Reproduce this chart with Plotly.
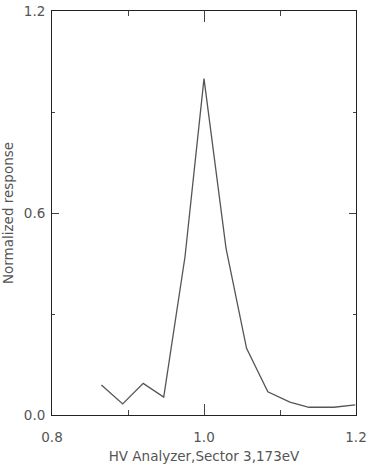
import plotly.graph_objects as go

energy = [0.865, 0.893, 0.920, 0.947, 0.975, 1.000, 1.029, 1.056, 1.084, 1.113, 1.138, 1.171, 1.199]
response = [0.089, 0.033, 0.094, 0.053, 0.470, 0.999, 0.495, 0.198, 0.069, 0.038, 0.023, 0.023, 0.030]

x_ticks = [0.8, 1.0, 1.2]
x_labels = ["0.8", "1.0", "1.2"]
y_ticks = [0.0, 0.6, 1.2]
y_labels = ["0.0", "0.6", "1.2"]

font_fam = "DejaVu Sans, Verdana, sans-serif"
txt_col = "#555555"
fs = 13.5

fig = go.Figure()
fig.add_trace(go.Scatter(x=energy, y=response, mode="lines",
                         line=dict(color="#555555", width=1.3), showlegend=False))

fig.update_layout(
    width=373, height=465,
    margin=dict(l=52, r=17, t=11, b=50, autoexpand=False),
    paper_bgcolor="white", plot_bgcolor="white",
    font=dict(family=font_fam, size=fs, color=txt_col),
)
fig.update_xaxes(
    range=[0.8, 1.2], tickmode="array", tickvals=x_ticks, ticktext=x_labels,
    ticks="inside", ticklen=11, tickcolor="#444444", tickwidth=1,
    minor=dict(tickmode="array", tickvals=[0.9, 1.1], ticks="inside", ticklen=5,
               tickcolor="#444444", tickwidth=1, showgrid=False),
    showline=True, linecolor="#222222", linewidth=1, mirror="allticks",
    showgrid=False, zeroline=False, automargin=False,
    ticklabelstandoff=10,
    title=dict(text="HV Analyzer,Sector 3,173eV", standoff=7,
               font=dict(size=fs, color=txt_col)),
    tickfont=dict(size=fs, color=txt_col),
)
fig.update_yaxes(
    range=[0.0, 1.2], tickmode="array", tickvals=y_ticks, ticktext=y_labels,
    ticks="inside", ticklen=7, tickcolor="#444444", tickwidth=1,
    minor=dict(tickmode="array", tickvals=[0.3, 0.9], ticks="inside", ticklen=3,
               tickcolor="#444444", tickwidth=1, showgrid=False),
    showline=True, linecolor="#222222", linewidth=1, mirror="allticks",
    showgrid=False, zeroline=False, automargin=False,
    ticklabelstandoff=3,
    title=dict(text="Normalized response", standoff=8,
               font=dict(size=fs, color=txt_col)),
    tickfont=dict(size=fs, color=txt_col),
)

fig.write_html("out.html")
